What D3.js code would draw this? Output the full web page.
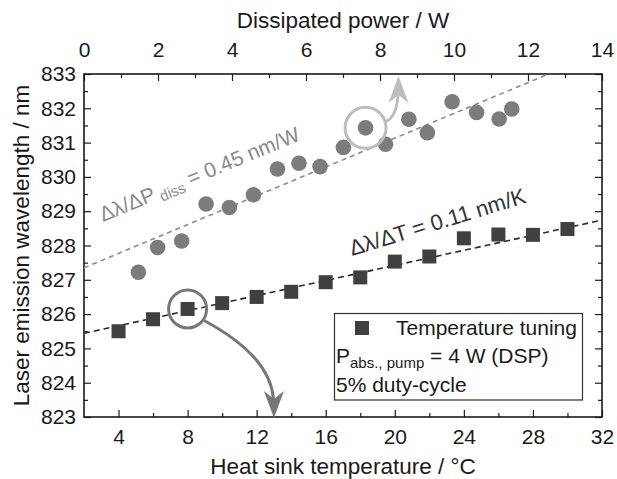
<!DOCTYPE html>
<html><head><meta charset="utf-8">
<script src="https://cdn.jsdelivr.net/npm/d3@7"></script>
<style>
html,body{margin:0;padding:0;background:#fff;}
svg{display:block;font-family:"Liberation Sans",Arial,Helvetica,sans-serif;}
</style></head><body>
<svg id="chart" width="617" height="479"></svg>
<script>
// Temperature tuning series (squares, bottom axis)
const sinkTemp = [4, 6, 8, 10, 12, 14, 16, 18, 20, 22, 24, 26, 28, 30];
const wlTemp = [825.5, 825.85, 826.15, 826.32, 826.5, 826.65, 826.93, 827.07, 827.53, 827.68, 828.21, 828.32, 828.31, 828.48];

// Dissipated power series (circles, top axis)
const dissPower = [1.47, 1.99, 2.64, 3.30, 3.93, 4.58, 5.23, 5.81, 6.38, 7.01, 7.61, 8.15, 8.78, 9.28, 9.95, 10.61, 11.22, 11.56];
const wlPower = [827.22, 827.94, 828.13, 829.21, 829.11, 829.48, 830.23, 830.40, 830.30, 830.86, 831.43, 830.95, 831.68, 831.29, 832.19, 831.88, 831.69, 831.98];

// Linear fits
const fitTemp = [0.11, 825.22];   // slope nm/K, intercept nm
const fitPower = [0.45, 827.35];  // slope nm/W, intercept nm

// Tick values
const tempTicks = [4, 8, 12, 16, 20, 24, 28, 32];
const tempMinor = [6, 10, 14, 18, 22, 26, 30];
const powerTicks = [0, 2, 4, 6, 8, 10, 12, 14];
const powerMinor = [1, 3, 5, 7, 9, 11, 13];
const wlTicks = [823, 824, 825, 826, 827, 828, 829, 830, 831, 832, 833];
const wlMinor = [823.5, 824.5, 825.5, 826.5, 827.5, 828.5, 829.5, 830.5, 831.5, 832.5];

const W = 617, H = 479;
const m = {l: 84, r: 15, t: 74, b: 62};
const svg = d3.select("#chart");

const x = d3.scaleLinear().domain([2, 32]).range([m.l, W - m.r]);
const xTop = d3.scaleLinear().domain([0, 14]).range([m.l, W - m.r]);
const y = d3.scaleLinear().domain([823, 833]).range([H - m.b, m.t]);

const FS = 21, TITLE_FS = 22.5;
const ink = "#1a1a1a";

svg.append("defs").append("clipPath").attr("id", "plot")
  .append("rect").attr("x", m.l).attr("y", m.t)
  .attr("width", W - m.l - m.r).attr("height", H - m.t - m.b);

function styleAxis(g, labels) {
  g.select(".domain").remove();
  g.selectAll(".tick line").attr("stroke", ink).attr("stroke-width", 1.2);
  g.selectAll(".tick text").attr("font-size", FS).attr("fill", ink)
    .attr("font-family", "Liberation Sans, Arial, sans-serif");
  if (!labels) g.selectAll(".tick text").remove();
}

// bottom axis
svg.append("g").attr("transform", `translate(0,${H - m.b})`)
  .call(d3.axisBottom(x).tickValues(tempTicks).tickSize(-7).tickPadding(12))
  .call(g => styleAxis(g, true));
svg.append("g").attr("transform", `translate(0,${H - m.b})`)
  .call(d3.axisBottom(x).tickValues(tempMinor).tickSize(-4).tickFormat(""))
  .call(g => styleAxis(g, false));

// top axis
svg.append("g").attr("transform", `translate(0,${m.t})`)
  .call(d3.axisTop(xTop).tickValues(powerTicks).tickSize(-7).tickPadding(17))
  .call(g => styleAxis(g, true));
svg.append("g").attr("transform", `translate(0,${m.t})`)
  .call(d3.axisTop(xTop).tickValues(powerMinor).tickSize(-4).tickFormat(""))
  .call(g => styleAxis(g, false));

// left axis
svg.append("g").attr("transform", `translate(${m.l},0)`)
  .call(d3.axisLeft(y).tickValues(wlTicks).tickSize(-7).tickPadding(8).tickFormat(d3.format("d")))
  .call(g => styleAxis(g, true));
svg.append("g").attr("transform", `translate(${m.l},0)`)
  .call(d3.axisLeft(y).tickValues(wlMinor).tickSize(-4).tickFormat(""))
  .call(g => styleAxis(g, false));

// right axis (ticks only)
svg.append("g").attr("transform", `translate(${W - m.r},0)`)
  .call(d3.axisRight(y).tickValues(wlTicks).tickSize(-7).tickFormat(""))
  .call(g => styleAxis(g, false));
svg.append("g").attr("transform", `translate(${W - m.r},0)`)
  .call(d3.axisRight(y).tickValues(wlMinor).tickSize(-4).tickFormat(""))
  .call(g => styleAxis(g, false));

// frame
svg.append("rect").attr("x", m.l).attr("y", m.t)
  .attr("width", W - m.l - m.r).attr("height", H - m.t - m.b)
  .attr("fill", "none").attr("stroke", ink).attr("stroke-width", 1.6);

// axis titles
svg.append("text").attr("x", (m.l + W - m.r) / 2).attr("y", 474)
  .attr("text-anchor", "middle").attr("font-size", TITLE_FS).attr("fill", ink)
  .text("Heat sink temperature / °C");
svg.append("text").attr("x", (m.l + W - m.r) / 2).attr("y", 28)
  .attr("text-anchor", "middle").attr("font-size", TITLE_FS).attr("fill", ink)
  .text("Dissipated power / W");
svg.append("text")
  .attr("transform", `translate(29,${(m.t + H - m.b) / 2}) rotate(-90)`)
  .attr("text-anchor", "middle").attr("font-size", TITLE_FS).attr("fill", ink)
  .text("Laser emission wavelength / nm");

// fit lines
const plot = svg.append("g").attr("clip-path", "url(#plot)");
plot.append("line")
  .attr("x1", xTop(0)).attr("y1", y(fitPower[1]))
  .attr("x2", xTop(14)).attr("y2", y(fitPower[1] + fitPower[0] * 14))
  .attr("stroke", "#8c8c8c").attr("stroke-width", 1.6).attr("stroke-dasharray", "5,4");
plot.append("line")
  .attr("x1", x(2)).attr("y1", y(fitTemp[1] + fitTemp[0] * 2))
  .attr("x2", x(32)).attr("y2", y(fitTemp[1] + fitTemp[0] * 32))
  .attr("stroke", "#2b2b2b").attr("stroke-width", 1.6).attr("stroke-dasharray", "6,4");

// data points
svg.append("g").selectAll("circle").data(dissPower).join("circle")
  .attr("cx", d => xTop(d)).attr("cy", (d, i) => y(wlPower[i]))
  .attr("r", 7.8).attr("fill", "#7c7c7c");

const sq = 14;
svg.append("g").selectAll("rect").data(sinkTemp).join("rect")
  .attr("x", d => x(d) - sq / 2).attr("y", (d, i) => y(wlTemp[i]) - sq / 2)
  .attr("width", sq).attr("height", sq).attr("fill", "#404040");

// slope annotations
const gAnn = svg.append("text")
  .attr("transform", "translate(103,222) rotate(-22.5)")
  .attr("font-size", FS).attr("fill", "#8a8a8a");
gAnn.append("tspan").text("Δλ/ΔP");
gAnn.append("tspan").attr("font-size", 15).attr("dx", 4).attr("dy", 4).text("diss");
gAnn.append("tspan").attr("dy", -4).text(" = 0.45 nm/W");

svg.append("text")
  .attr("transform", "translate(352,256) rotate(-17)")
  .attr("font-size", 22).attr("fill", "#333")
  .text("Δλ/ΔT = 0.11 nm/K");

// highlighted points with arrows to the matching axis
function arrowHead(tx, ty, dir, color) {
  // dir = -1 points up, +1 points down
  const p = [[tx, ty], [tx - 10, ty - dir * 27], [tx, ty - dir * 19], [tx + 10, ty - dir * 27]];
  svg.append("path").attr("d", "M" + p.map(q => q.join(",")).join("L") + "Z").attr("fill", color);
}

// light ring: power point at 7.61 W
const lc = [xTop(dissPower[10]), y(wlPower[10])];
svg.append("circle").attr("cx", lc[0]).attr("cy", lc[1]).attr("r", 20.5)
  .attr("fill", "none").attr("stroke", "#bdbdbd").attr("stroke-width", 3);
const lt = [xTop(8.5), y(833) + 2];
svg.append("path")
  .attr("d", `M${lc[0] + 19.5},${lc[1] - 6} Q${lt[0] - 2},${lc[1] - 10} ${lt[0] - 0.5},${lt[1] + 19}`)
  .attr("fill", "none").attr("stroke", "#bdbdbd").attr("stroke-width", 3);
arrowHead(lt[0], lt[1], -1, "#bdbdbd");

// dark ring: temperature point at 8 °C
const dc = [x(sinkTemp[2]), y(wlTemp[2])];
svg.append("circle").attr("cx", dc[0]).attr("cy", dc[1]).attr("r", 19)
  .attr("fill", "none").attr("stroke", "#777").attr("stroke-width", 3);
const dt = [x(13), y(823) + 1];
svg.append("path")
  .attr("d", `M${dc[0] + 15.5},${dc[1] + 11} C${dc[0] + 53},${dc[1] + 31} ${dt[0] - 3},${dc[1] + 56} ${dt[0] - 0.5},${dt[1] - 19}`)
  .attr("fill", "none").attr("stroke", "#777").attr("stroke-width", 3);
arrowHead(dt[0], dt[1], 1, "#777");

// legend
const lg = svg.append("g");
lg.append("rect").attr("x", 334.5).attr("y", 313.5).attr("width", 248).attr("height", 86.5)
  .attr("fill", "#fff").attr("stroke", "#333").attr("stroke-width", 1.2);
lg.append("rect").attr("x", 362 - sq / 2).attr("y", 328 - sq / 2).attr("width", sq).attr("height", sq)
  .attr("fill", "#404040");
lg.append("text").attr("x", 396).attr("y", 335).attr("font-size", FS).attr("fill", ink)
  .text("Temperature tuning");
const l2 = lg.append("text").attr("x", 336).attr("y", 363).attr("font-size", FS).attr("fill", ink);
l2.append("tspan").text("P");
l2.append("tspan").attr("font-size", 15).attr("dy", 5).text("abs., pump");
l2.append("tspan").attr("dy", -5).text(" = 4 W (DSP)");
lg.append("text").attr("x", 336).attr("y", 391.5).attr("font-size", FS).attr("fill", ink)
  .text("5% duty-cycle");
</script>
</body></html>
